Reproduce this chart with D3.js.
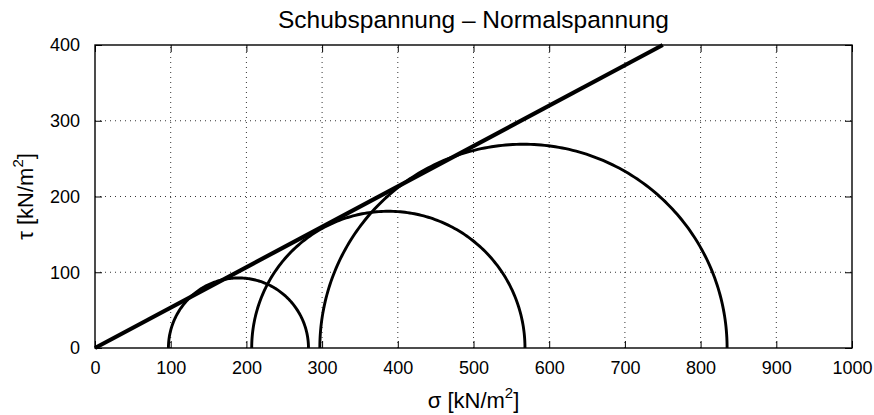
<!DOCTYPE html>
<html>
<head>
<meta charset="utf-8">
<script src="https://cdn.jsdelivr.net/npm/d3@7"></script>
<style>
  html, body { margin: 0; padding: 0; background: #fff; }
  svg { display: block; }
  text { font-family: "Liberation Sans", Arial, Helvetica, sans-serif; fill: #000; }
</style>
</head>
<body>
<svg id="chart" width="874" height="415"></svg>
<script>
// ---- data ----
const xTicks = [0, 100, 200, 300, 400, 500, 600, 700, 800, 900, 1000];
const yTicks = [0, 100, 200, 300, 400];
const sigma3 = [97, 207, 297];   // left end of each Mohr circle
const sigma1 = [282, 568, 835];  // right end of each Mohr circle
const envSigma = [0, 750];       // failure envelope
const envTau = [0, 400];
const titleText = "Schubspannung \u2013 Normalspannung";

// ---- layout ----
const W = 874, H = 415;
const m = { left: 95, right: 874 - 852, top: 45, bottom: 415 - 348 };
const svg = d3.select("#chart");
const x = d3.scaleLinear().domain([0, 1000]).range([m.left, W - m.right]);
const y = d3.scaleLinear().domain([0, 400]).range([H - m.bottom, m.top]);
const x0 = x.range()[0], x1 = x.range()[1], y0 = y.range()[0], y1 = y.range()[1];

// grid (dotted)
const grid = svg.append("g").attr("stroke", "#000").attr("stroke-width", 0.8)
  .attr("stroke-dasharray", "1,4").attr("fill", "none");
grid.selectAll("line.gx").data(xTicks.filter(d => d > 0 && d < 1000)).join("line")
  .attr("x1", d => x(d)).attr("x2", d => x(d)).attr("y1", y0).attr("y2", y1);
grid.selectAll("line.gy").data(yTicks.filter(d => d > 0 && d < 400)).join("line")
  .attr("x1", x0).attr("x2", x1).attr("y1", d => y(d)).attr("y2", d => y(d));

// axes
const tickLen = 7;
const xAxis = d3.axisBottom(x).tickValues(xTicks).tickSize(-tickLen).tickPadding(tickLen + 6).tickFormat(d3.format("d"));
const yAxis = d3.axisLeft(y).tickValues(yTicks).tickSize(-tickLen).tickPadding(tickLen + 8).tickFormat(d3.format("d"));
const gx = svg.append("g").attr("transform", `translate(0,${y0})`).call(xAxis);
const gy = svg.append("g").attr("transform", `translate(${x0},0)`).call(yAxis);
const gxt = svg.append("g").attr("transform", `translate(0,${y1})`).call(d3.axisTop(x).tickValues(xTicks).tickSize(-tickLen).tickFormat(""));
const gyr = svg.append("g").attr("transform", `translate(${x1},0)`).call(d3.axisRight(y).tickValues(yTicks).tickSize(-tickLen).tickFormat(""));
[gx, gy, gxt, gyr].forEach(g => {
  g.select(".domain").remove();
  g.selectAll(".tick line").attr("stroke", "#000").attr("stroke-width", 1);
  g.selectAll(".tick text").style("font-size", "18px").attr("fill", "#000");
});

// frame
svg.append("rect").attr("x", x0).attr("y", y1).attr("width", x1 - x0).attr("height", y0 - y1)
  .attr("fill", "none").attr("stroke", "#000").attr("stroke-width", 1.4);

// Mohr circles (upper half), built from sigma3/sigma1 through the scales
const lineGen = d3.line().x(d => x(d[0])).y(d => y(d[1]));
const circles = sigma3.map((s3, i) => {
  const c = (s3 + sigma1[i]) / 2, r = (sigma1[i] - s3) / 2;
  return d3.range(0, 181).map(a => [c + r * Math.cos(Math.PI - a * Math.PI / 180), r * Math.sin(a * Math.PI / 180)]);
});
svg.append("g").selectAll("path").data(circles).join("path")
  .attr("d", lineGen).attr("fill", "none").attr("stroke", "#000").attr("stroke-width", 2.9);

// failure envelope
svg.append("path").datum(envSigma.map((s, i) => [s, envTau[i]]))
  .attr("d", lineGen).attr("fill", "none").attr("stroke", "#000").attr("stroke-width", 4.2)
  .attr("stroke-linecap", "butt");

// title and labels
svg.append("text").attr("x", (x0 + x1) / 2).attr("y", 28).attr("text-anchor", "middle")
  .style("font-size", "24.5px").text(titleText);
const xl = svg.append("text").attr("x", (x0 + x1) / 2).attr("y", 408).attr("text-anchor", "middle").style("font-size", "22px");
xl.append("tspan").text("\u03c3 [kN/m");
xl.append("tspan").attr("dy", -10).style("font-size", "15px").text("2");
xl.append("tspan").attr("dy", 10).text("]");
const yl = svg.append("text").attr("transform", `translate(33,${(y0 + y1) / 2}) rotate(-90)`).attr("text-anchor", "middle").style("font-size", "22px");
yl.append("tspan").text("\u03c4 [kN/m");
yl.append("tspan").attr("dy", -10).style("font-size", "15px").text("2");
yl.append("tspan").attr("dy", 10).text("]");
</script>
</body>
</html>
